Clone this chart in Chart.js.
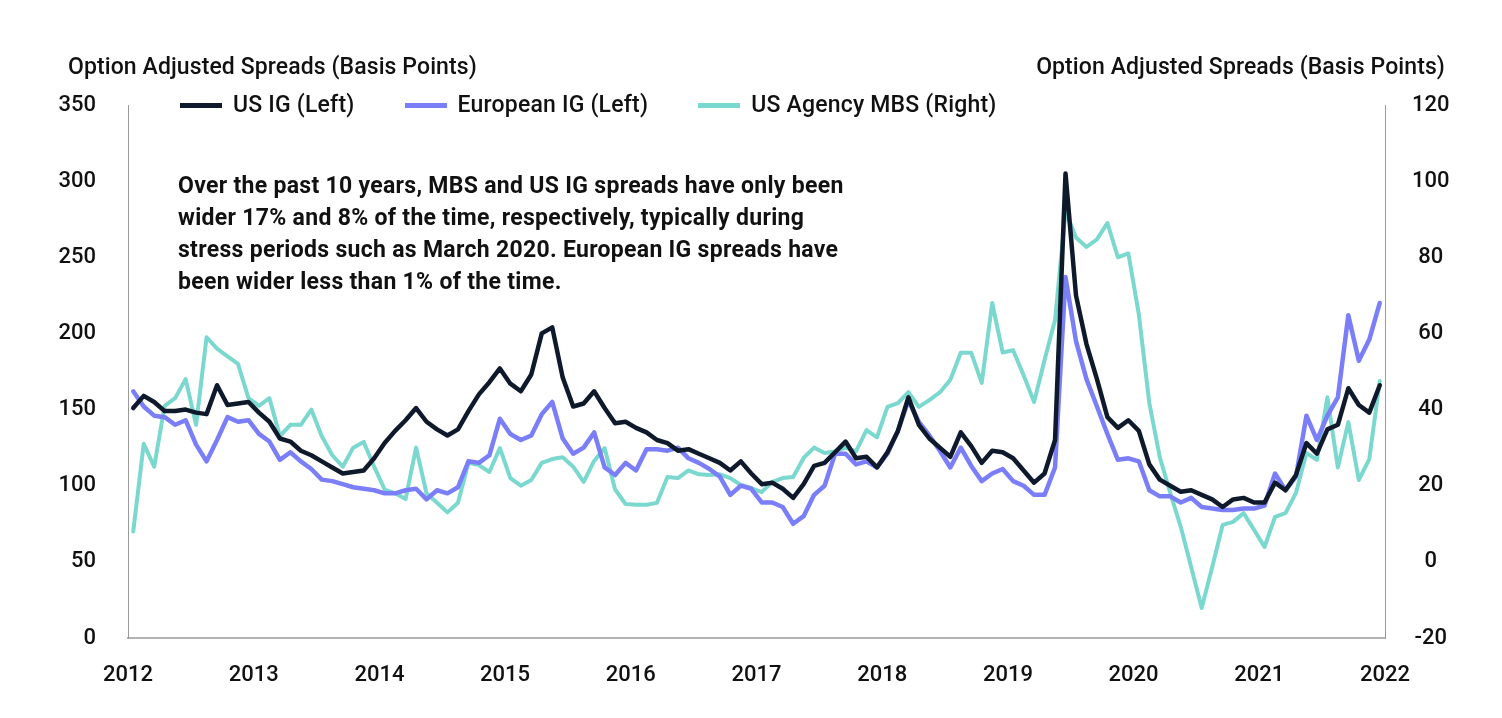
<!DOCTYPE html>
<html lang="en">
<head>
  <meta charset="UTF-8" />
  <title>Option Adjusted Spreads</title>
  <script src="https://cdn.jsdelivr.net/npm/chart.js"></script>
  <style>
    body {
      margin: 0;
      background: #fff;
      font-family: 'Roboto', 'Liberation Sans', sans-serif;
      color: #111;
    }

    .wrap {
      position: relative;
      width: 1502px;
      height: 718px;
    }

    .axis-title {
      position: absolute;
      top: 54px;
      font-size: 23px;
      font-weight: 500;
      letter-spacing: 0.1px;
      line-height: 26px;
      white-space: nowrap;
    }

    .legend {
      position: absolute;
      top: 92px;
      left: 180px;
      display: flex;
      font-size: 23px;
      font-weight: 500;
      letter-spacing: 0.2px;
      line-height: 26px;
    }

    .legend-item {
      display: flex;
      align-items: center;
      margin-right: 50px;
    }

    .legend-swatch {
      width: 42px;
      height: 5px;
      margin-right: 11px;
    }

    .note {
      position: absolute;
      left: 178px;
      top: 170px;
      font-size: 23px;
      font-weight: 700;
      letter-spacing: 0.3px;
      line-height: 32px;
      white-space: nowrap;
    }
  </style>
</head>

<body>
  <div class="wrap">
    <canvas id="spreadChart" width="1502" height="718"></canvas>

    <div class="axis-title" style="left: 68px;">Option Adjusted Spreads (Basis Points)</div>
    <div class="axis-title" style="right: 57px;">Option Adjusted Spreads (Basis Points)</div>

    <div class="legend" id="legend"></div>

    <div class="note">
      Over the past 10 years, MBS and US IG spreads have only been<br>
      wider 17% and 8% of the time, respectively, typically during<br>
      stress periods such as March 2020. European IG spreads have<br>
      been wider less than 1% of the time.
    </div>
  </div>

  <script>
    // year labels on the x axis, one every 12 months
    const yearLabels = ["2012", "2013", "2014", "2015", "2016", "2017", "2018", "2019", "2020", "2021", "2022"];

    // monthly option adjusted spreads (bp)
    const usIG = [
      151, 159, 155, 149, 149, 150, 148, 147, 166, 153, 154, 155,
      148, 142, 131, 129, 123, 120, 116, 112, 108, 109, 110, 118,
      128, 136, 143, 151, 142, 137, 133, 137, 149, 160, 168, 177,
      167, 162, 173, 200, 204, 171, 152, 154, 162, 151, 141, 142,
      138, 135, 130, 128, 123, 124, 121, 118, 115, 110, 116, 108,
      101, 102, 98, 92, 101, 113, 115, 122, 129, 118, 119, 112,
      122, 136, 158, 140, 131, 125, 119, 135, 126, 115, 123, 122,
      118, 110, 102, 108, 130, 305, 225, 193, 170, 145, 138, 143,
      136, 114, 104, 100, 96, 97, 94, 91, 86, 91, 92, 89,
      89, 102, 97, 107, 128, 121, 137, 140, 164, 153, 148, 166
    ];

    const europeanIG = [
      162, 152, 146, 145, 140, 143, 127, 116, 130, 145, 142, 143,
      134, 129, 117, 122, 116, 111, 104, 103, 101, 99, 98, 97,
      95, 95, 97, 98, 91, 97, 95, 99, 116, 115, 120, 144,
      134, 130, 133, 147, 155, 131, 121, 125, 135, 112, 107, 115,
      110, 124, 124, 123, 125, 118, 115, 111, 106, 94, 100, 98,
      89, 89, 86, 75, 80, 94, 100, 121, 121, 114, 116, 112,
      121, 136, 156, 142, 133, 123, 112, 125, 113, 103, 108, 111,
      103, 100, 94, 94, 112, 237, 195, 170, 152, 134, 117, 118,
      116, 97, 93, 93, 89, 92, 86, 85, 84, 84, 85, 85,
      87, 108, 97, 106, 146, 130, 146, 158, 212, 182, 196, 220
    ];

    const agencyMBS = [
      8, 31, 25, 41, 43, 48, 36, 59, 56, 54, 52, 43,
      41, 43, 33, 36, 36, 40, 33, 28, 25, 30, 31.5, 25,
      19, 18, 16.5, 30, 18, 15.5, 13, 15.5, 26, 25.4, 23.6, 29.9,
      22, 20, 21.5, 26, 27, 27.5, 25, 21, 26.5, 29.9, 19, 15.2,
      15, 15, 15.5, 22.3, 22, 24, 23, 22.8, 23, 22, 20.2, 19.4,
      18.3, 21, 22, 22.3, 27.3, 30, 28.6, 29, 30, 29, 34.6, 32.7,
      40.7, 41.7, 44.6, 40.7, 42.5, 44.5, 47.8, 54.9, 54.9, 47, 68, 55,
      55.6, 49, 42, 53, 63.5, 92, 85.2, 82.7, 84.7, 89, 80, 81,
      65, 41.7, 27.5, 18.1, 9.2, -1.4, -12.1, -1.4, 9.7, 10.5, 12.8, 8.4,
      3.9, 11.8, 12.8, 18.1, 28.6, 26.8, 43.2, 24.8, 36.7, 21.5, 27, 47.5
    ];

    const seriesNames = ["US IG (Left)", "European IG (Left)", "US Agency MBS (Right)"];
    const seriesColors = ["#0e1a2b", "#7a7ef8", "#7ad8cf"];

    const toPoints = arr => arr.map((v, i) => ({ x: i, y: v }));
    const axisFont = { family: "Roboto", size: 22, weight: 500 };

    // legend drawn as html above the plot
    const legendBox = document.getElementById("legend");
    seriesNames.forEach((name, i) => {
      legendBox.innerHTML += `
        <div class="legend-item">
          <div class="legend-swatch" style="background:${seriesColors[i]}"></div>
          <span>${name}</span>
        </div>`;
    });

    new Chart(document.getElementById("spreadChart"), {
      type: "line",
      data: {
        datasets: [
          { label: seriesNames[0], data: toPoints(usIG), borderColor: seriesColors[0], borderWidth: 4.5, yAxisID: "yLeft" },
          { label: seriesNames[1], data: toPoints(europeanIG), borderColor: seriesColors[1], borderWidth: 4.5, yAxisID: "yLeft" },
          { label: seriesNames[2], data: toPoints(agencyMBS), borderColor: seriesColors[2], borderWidth: 4, yAxisID: "yRight" }
        ]
      },
      options: {
        responsive: false,
        animation: false,
        layout: { padding: { top: 105, left: 0, right: 0, bottom: 0 } },
        elements: {
          point: { radius: 0 },
          line: { tension: 0, borderJoinStyle: "round", borderCapStyle: "round" }
        },
        plugins: {
          legend: { display: false },
          tooltip: { enabled: false }
        },
        scales: {
          x: {
            type: "linear",
            min: -0.5,
            max: 119.5,
            grid: { display: false },
            border: { display: true, color: "#b3b3b3", width: 2 },
            afterBuildTicks: scale => {
              scale.ticks = yearLabels.map((_, i) => ({ value: -0.5 + i * 12 }));
            },
            afterFit: scale => { scale.height = 80; },
            ticks: {
              color: "#111",
              font: axisFont,
              padding: 16,
              maxRotation: 0,
              autoSkip: false,
              callback: (value, index) => yearLabels[index]
            }
          },
          yLeft: {
            position: "left",
            min: 0,
            max: 350,
            grid: { display: false },
            border: { display: true, color: "#9a9a9a", width: 1 },
            afterFit: scale => { scale.width = 128; },
            ticks: { stepSize: 50, color: "#111", font: axisFont, padding: 24 }
          },
          yRight: {
            position: "right",
            min: -20,
            max: 120,
            grid: { display: false },
            border: { display: true, color: "#9a9a9a", width: 1 },
            afterFit: scale => { scale.width = 117; },
            ticks: { stepSize: 20, color: "#111", font: axisFont, padding: 19, crossAlign: "center" }
          }
        }
      }
    });
  </script>
</body>
</html>
